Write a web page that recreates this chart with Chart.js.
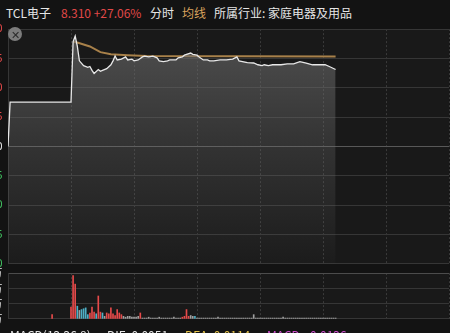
<!DOCTYPE html>
<html>
<head>
<meta charset="utf-8">
<script src="https://cdn.jsdelivr.net/npm/chart.js@4.4.1/dist/chart.umd.min.js"></script>
<style>
  html, body { margin: 0; padding: 0; background: #131313; }
  body { width: 450px; height: 333px; overflow: hidden; position: relative;
         font-family: "Noto Sans CJK SC", "Noto Sans", sans-serif; }
  .hd { position: absolute; top: 4px; font-size: 12px; white-space: nowrap; }
  #priceBox { position: absolute; left: -32px; top: 17px; width: 482px; height: 259px; }
  #volBox { position: absolute; left: -32px; top: 261px; width: 482px; height: 70px; }
  .close { position: absolute; left: 8px; top: 27px; width: 14px; height: 14px; border-radius: 50%;
           background: #7c7c7c; color: #2a2a2a; font-size: 11px; line-height: 14px; text-align: center; }
  .ft { position: absolute; top: 328px; font-size: 12px; line-height: 14px; white-space: nowrap; }
</style>
</head>
<body>
<span class="hd" style="left:6px;color:#e6e6e6">TCL电子</span>
<span class="hd" style="left:61px;color:#e04848">8.310 +27.06%</span>
<span class="hd" style="left:150px;color:#e6e6e6">分时</span>
<span class="hd" style="left:182px;color:#d9a35e">均线</span>
<span class="hd" style="left:214px;color:#e6e6e6">所属行业: 家庭电器及用品</span>

<div id="priceBox"><canvas id="priceChart"></canvas></div>
<div id="volBox"><canvas id="volChart"></canvas></div>
<div class="close">✕</div>

<span class="ft" style="left:10px;color:#e6e6e6">MACD(12,26,9)</span>
<span class="ft" style="left:107px;color:#e6e6e6">DIF: 0.0051</span>
<span class="ft" style="left:185px;color:#e6c34a">DEA: 0.0114</span>
<span class="ft" style="left:267px;color:#d050d0">MACD: -0.0126</span>

<script>
// minutes from the start of the session (0 .. 210 on the axis)
const priceMin = [0, 1, 30, 31, 32, 33, 34, 36, 38, 39, 40, 41, 43, 44, 45, 47, 49, 50, 51, 52,
  54, 56, 57, 59, 60, 62, 64, 65, 67, 69, 71, 72, 74, 76, 77, 80, 81, 83, 84, 87,
  88, 90, 91, 93, 95, 96, 98, 101, 104, 107, 109, 110, 114, 117, 119, 121, 122, 124, 126, 130,
  133, 136, 139, 142, 145, 149, 151, 153, 156];
const priceVals = [6.54, 7.56, 7.56, 8.95, 9.08, 8.85, 8.51, 8.40, 8.36, 8.38, 8.29, 8.22, 8.31, 8.27, 8.29, 8.33, 8.42, 8.51, 8.62, 8.53,
  8.55, 8.60, 8.53, 8.55, 8.51, 8.53, 8.60, 8.62, 8.60, 8.62, 8.58, 8.51, 8.49, 8.51, 8.53, 8.53, 8.58, 8.60, 8.64, 8.69,
  8.66, 8.64, 8.60, 8.53, 8.53, 8.51, 8.51, 8.53, 8.53, 8.55, 8.60, 8.51, 8.47, 8.46, 8.42, 8.40, 8.42, 8.40, 8.42, 8.42,
  8.44, 8.44, 8.49, 8.46, 8.42, 8.42, 8.42, 8.38, 8.31];

// average price line
const avgMin = [31, 33, 39, 44, 49, 57, 66, 156];
const avgVals = [8.95, 8.93, 8.84, 8.71, 8.66, 8.64, 8.62, 8.61];

const prevClose = 6.54;
const priceTicks = [3.840, 4.515, 5.190, 5.865, 6.540, 7.215, 7.890, 8.565, 9.240];

// volume per minute (minute 0 .. 156), direction: 1 up, -1 down, 0 flat
const volume = [
  0, 0, 0, 0, 0, 0, 0, 0, 0, 0, 0, 0, 0, 0, 0, 0, 0, 0, 0, 0,
  0, 5, 0, 0, 0, 0, 0, 0, 0, 0,
  14, 51, 41, 15, 10, 11, 12, 13, 5, 7,
  14, 8, 6, 27, 8, 7, 3, 7, 6, 13,
  6, 4, 11, 7, 5, 3, 2, 3, 3, 2,
  2, 2, 3, 7, 1, 1, 1, 2, 1, 1,
  1, 1, 2, 1, 1, 1, 1, 1, 1, 2,
  1, 1, 1, 2, 3, 11, 3, 4, 3, 3,
  1, 1, 1, 1, 1, 1, 1, 1, 1, 1,
  2, 1, 1, 1, 1, 1, 1, 1, 1, 1,
  1, 1, 1, 1, 1, 1, 1, 5, 1, 1,
  1, 1, 1, 1, 1, 1, 1, 1, 1, 1,
  1, 2, 1, 1, 1, 1, 1, 1, 1, 1,
  1, 1, 1, 1, 1, 1, 1, 1, 1, 1,
  1, 1, 1, 1, 1, 1, 1];
const volDir = [
  0, 0, 0, 0, 0, 0, 0, 0, 0, 0, 0, 0, 0, 0, 0, 0, 0, 0, 0, 0,
  0, 1, 0, 0, 0, 0, 0, 0, 0, 0,
  1, 1, 1, -1, 0, -1, -1, -1, -1, 1,
  1, 1, -1, 1, 1, -1, 0, 1, 1, 1,
  1, 1, 1, 1, 1, 0, 0, 0, 0, 0,
  0, 0, 0, 1, 0, 0, 0, 0, 0, 0,
  0, 0, 0, 0, 0, 0, 0, 0, 0, 0,
  0, 0, 0, 1, 1, 1, 1, 0, 0, -1,
  0, 0, 0, 0, 0, 0, 0, 0, 0, 0,
  0, 0, 0, 0, 0, 0, 0, 0, 0, 0,
  0, 0, 0, 0, 0, 0, 0, 0, 0, 0,
  0, 0, 0, 0, 0, 0, 0, 0, 0, 0,
  0, 0, 0, 0, 0, 0, 0, 0, 0, 0,
  0, 0, 0, 0, 0, 0, 0, 0, 0, 0,
  0, 0, 0, 0, 0, 0, 0];
const volTicks = [0, 18, 36, 54];

const dirColors = { '1': '#e64a4a', '-1': '#4fb0c6', '0': '#a0a0a0' };

// paint the plot area background
const plotBg = {
  id: 'plotBg',
  beforeDraw(chart) {
    const a = chart.chartArea;
    chart.ctx.save();
    chart.ctx.fillStyle = '#191919';
    chart.ctx.fillRect(a.left, a.top, a.right - a.left, a.bottom - a.top);
    chart.ctx.restore();
  }
};

function xScale() {
  return {
    type: 'linear', min: 0, max: 210, offset: false,
    ticks: { display: false, stepSize: 30 },
    grid: { color: '#3a3a3a', drawTicks: false, offset: false },
    border: { display: false, dash: [2, 2] },
    afterFit: (s) => { s.height = 0; }
  };
}

new Chart(document.getElementById('priceChart'), {
  type: 'line',
  data: {
    datasets: [
      {
        data: avgMin.map((m, i) => ({ x: m, y: avgVals[i] })),
        borderColor: '#a8814a',
        borderWidth: 2,
        pointRadius: 0,
        fill: false,
        order: 2
      },
      {
        data: priceMin.map((m, i) => ({ x: m, y: priceVals[i] })),
        borderColor: '#e8e8e8',
        borderWidth: 1.3,
        pointRadius: 0,
        fill: 'start',
        backgroundColor: (ctx) => {
          const a = ctx.chart.chartArea;
          if (!a) return 'rgba(0,0,0,0)';
          const g = ctx.chart.ctx.createLinearGradient(0, a.top, 0, a.bottom);
          g.addColorStop(0, 'rgba(110,110,110,0.65)');
          g.addColorStop(0.5, 'rgba(110,110,110,0.3)');
          g.addColorStop(1, 'rgba(110,110,110,0.03)');
          return g;
        },
        order: 1
      }
    ]
  },
  options: {
    responsive: true,
    maintainAspectRatio: false,
    animation: false,
    layout: { padding: { top: 8, bottom: 8, left: 0, right: 1 } },
    plugins: { legend: { display: false }, tooltip: { enabled: false } },
    scales: {
      x: xScale(),
      y: {
        min: 3.84, max: 9.24,
        afterBuildTicks: (axis) => { axis.ticks = priceTicks.map(v => ({ value: v })); },
        afterFit: (s) => { s.width = 40; },
        ticks: {
          padding: 5.5,
          font: { size: 11, family: 'Noto Sans' },
          callback: (v) => v.toFixed(3),
          color: (c) => Math.abs(c.tick.value - prevClose) < 0.001 ? '#e6e6e6'
            : (c.tick.value > prevClose ? '#e04848' : '#3fbf5f')
        },
        grid: {
          drawTicks: false,
          color: (c) => Math.abs(c.tick.value - prevClose) < 0.001 ? '#585858' : '#363636'
        },
        border: { display: true, color: '#363636' }
      }
    }
  },
  plugins: [plotBg]
});

const volPts = [];
volume.forEach((v, m) => { if (v > 0) volPts.push({ x: m, y: v, d: volDir[m] }); });

new Chart(document.getElementById('volChart'), {
  type: 'bar',
  data: {
    datasets: [{
      data: volPts,
      backgroundColor: volPts.map(p => dirColors[String(p.d)]),
      barThickness: 1,
      borderWidth: 0
    }]
  },
  options: {
    responsive: true,
    maintainAspectRatio: false,
    animation: false,
    layout: { padding: { top: 8, bottom: 8, left: 0, right: 1 } },
    plugins: { legend: { display: false }, tooltip: { enabled: false } },
    scales: {
      x: xScale(),
      y: {
        min: 0, max: 54,
        afterBuildTicks: (axis) => { axis.ticks = volTicks.map(v => ({ value: v })); },
        afterFit: (s) => { s.width = 40; },
        ticks: { padding: 5.5, font: { size: 11, family: 'Noto Sans CJK SC' }, color: '#e6e6e6',
                 callback: (v) => v + '万' },
        grid: {
          drawTicks: false,
          color: (c) => c.tick.value === 54 ? '#4c4c4c' : '#363636'
        },
        border: { display: true, color: '#363636' }
      }
    }
  },
  plugins: [plotBg]
});
</script>
</body>
</html>
